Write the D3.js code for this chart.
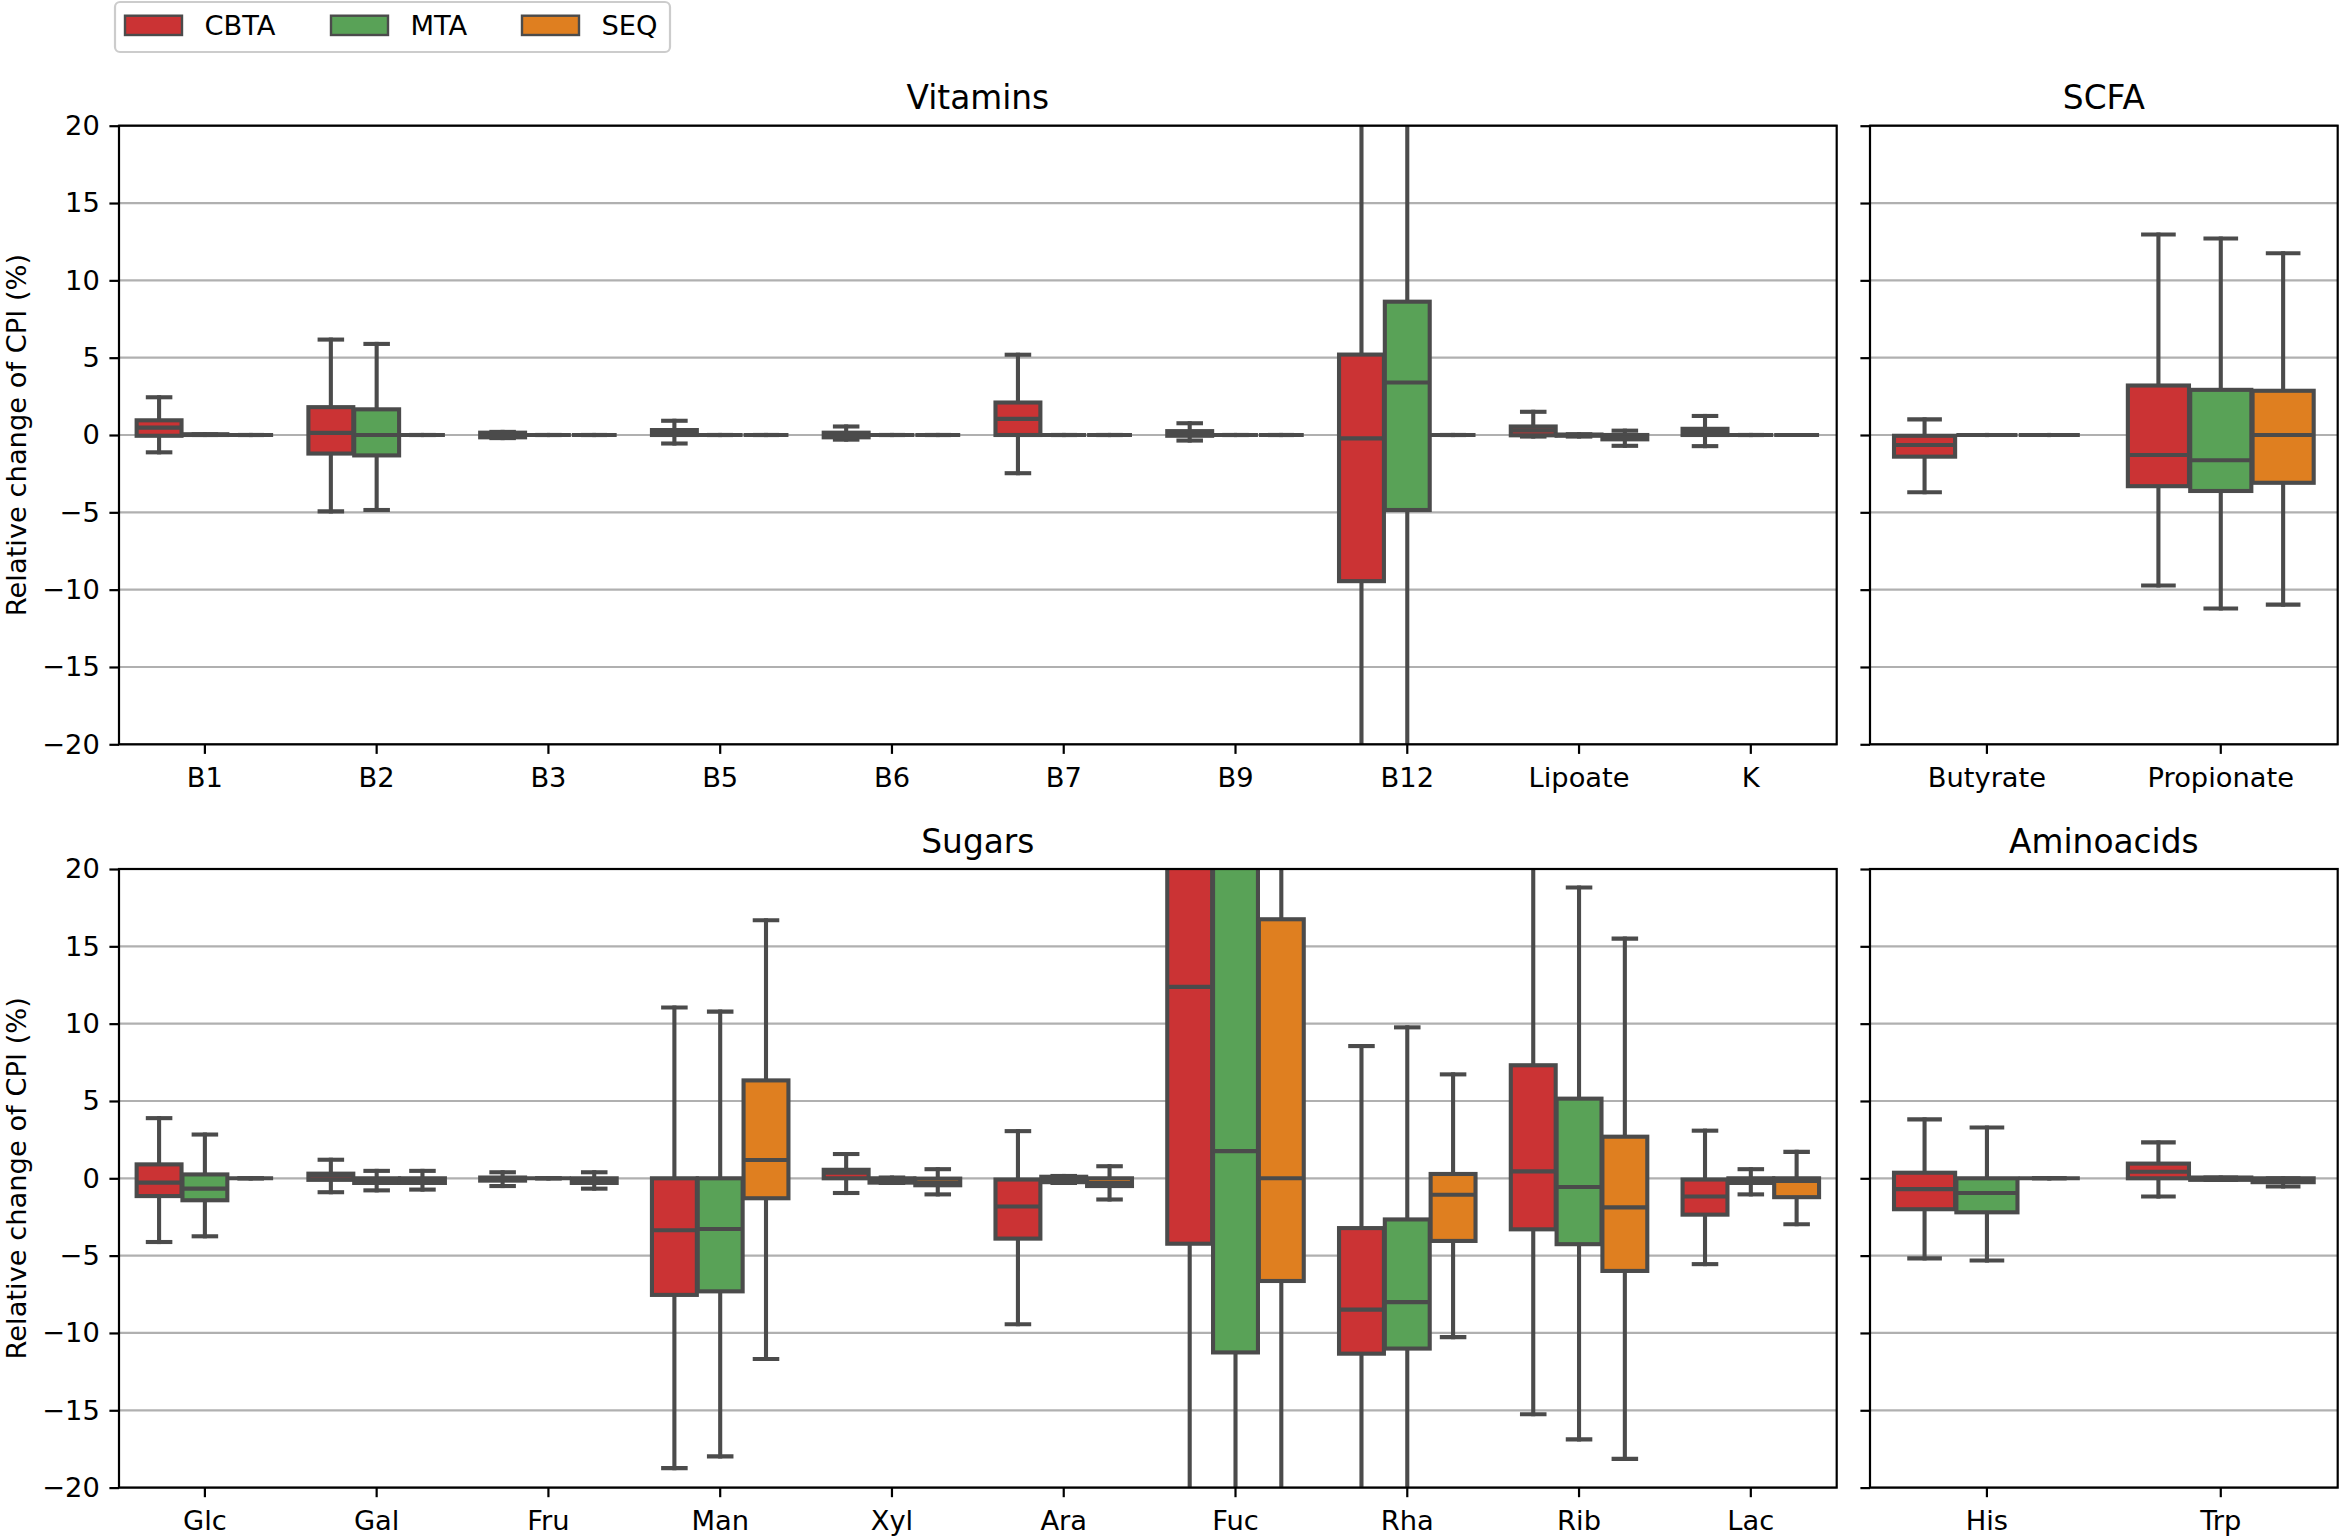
<!DOCTYPE html>
<html>
<head>
<meta charset="utf-8">
<script src="https://cdn.jsdelivr.net/npm/d3@7/dist/d3.min.js"></script>
<style>
  html, body { margin: 0; padding: 0; background: #ffffff; }
  svg { display: block; }
  text { font-family: "DejaVu Sans", sans-serif; fill: #000; }
</style>
</head>
<body>
<svg id="chart" width="2342" height="1538"></svg>
<script>
// ---------------- DATA (each box: [lowWhisker, Q1, median, Q3, highWhisker]) ----------------
const seriesNames = ["CBTA", "MTA", "SEQ"];
const seriesColors = ["#cb3334", "#59a257", "#df7f20"];
const yTicks = [-20, -15, -10, -5, 0, 5, 10, 15, 20];

const vitaminCategories = ["B1", "B2", "B3", "B5", "B6", "B7", "B9", "B12", "Lipoate", "K"];
const vitaminsCBTA = [
  [-1.12, -0.05, 0.48, 0.95, 2.44],
  [-4.94, -1.20, 0.14, 1.80, 6.17],
  [-0.20, -0.15, 0.00, 0.15, 0.20],
  [-0.55, 0.00, 0.15, 0.32, 0.92],
  [-0.30, -0.15, 0.05, 0.15, 0.55],
  [-2.47, 0.00, 1.04, 2.10, 5.19],
  [-0.36, -0.05, 0.12, 0.25, 0.76],
  [-30.0, -9.45, -0.22, 5.20, 28.0],
  [-0.10, -0.02, 0.30, 0.55, 1.50],
  [-0.72, 0.00, 0.25, 0.40, 1.23]
];
const vitaminsMTA = [
  [0, 0, 0, 0.05, 0.05],
  [-4.85, -1.32, 0.00, 1.66, 5.89],
  [0, 0, 0, 0, 0],
  [0, 0, 0, 0, 0],
  [0, 0, 0, 0, 0],
  [0, 0, 0, 0, 0],
  [0, 0, 0, 0, 0],
  [-26.0, -4.85, 3.39, 8.62, 25.0],
  [-0.10, -0.05, 0.00, 0.03, 0.05],
  [0, 0, 0, 0, 0]
];
const vitaminsSEQ = [
  [0, 0, 0, 0, 0],
  [0, 0, 0, 0, 0],
  [0, 0, 0, 0, 0],
  [0, 0, 0, 0, 0],
  [0, 0, 0, 0, 0],
  [0, 0, 0, 0, 0],
  [0, 0, 0, 0, 0],
  [0, 0, 0, 0, 0],
  [-0.70, -0.28, -0.17, 0.00, 0.28],
  [0, 0, 0, 0, 0]
];

const scfaCategories = ["Butyrate", "Propionate"];
const scfaCBTA = [
  [-3.70, -1.40, -0.65, -0.05, 1.01],
  [-9.73, -3.31, -1.29, 3.20, 12.96]
];
const scfaMTA = [
  [0, 0, 0, 0, 0],
  [-11.22, -3.62, -1.63, 2.92, 12.71]
];
const scfaSEQ = [
  [0, 0, 0, 0, 0],
  [-10.97, -3.09, 0.00, 2.86, 11.75]
];

const sugarCategories = ["Glc", "Gal", "Fru", "Man", "Xyl", "Ara", "Fuc", "Rha", "Rib", "Lac"];
const sugarsCBTA = [
  [-4.12, -1.15, -0.28, 0.90, 3.89],
  [-0.90, -0.10, 0.17, 0.30, 1.20],
  [-0.50, -0.15, -0.03, 0.05, 0.39],
  [-18.74, -7.54, -3.36, 0.00, 11.04],
  [-0.95, 0.00, 0.36, 0.55, 1.57],
  [-9.44, -3.90, -1.82, -0.08, 3.05],
  [-40.0, -4.23, 12.38, 26.0, 45.0],
  [-25.0, -11.34, -8.49, -3.22, 8.55],
  [-15.26, -3.30, 0.45, 7.31, 24.0],
  [-5.55, -2.35, -1.18, -0.08, 3.08]
];
const sugarsMTA = [
  [-3.75, -1.42, -0.67, 0.25, 2.83],
  [-0.78, -0.30, -0.10, 0.00, 0.48],
  [0, 0, 0, 0, 0],
  [-17.98, -7.31, -3.28, 0.00, 10.78],
  [-0.30, -0.28, -0.10, 0.00, 0.05],
  [-0.30, -0.25, -0.05, 0.10, 0.15],
  [-35.0, -11.26, 1.76, 24.0, 40.0],
  [-24.0, -11.01, -8.01, -2.66, 9.76],
  [-16.88, -4.26, -0.56, 5.15, 18.80],
  [-1.04, -0.30, -0.10, 0.00, 0.59]
];
const sugarsSEQ = [
  [0, 0, 0, 0, 0],
  [-0.73, -0.30, -0.10, 0.00, 0.48],
  [-0.67, -0.30, -0.10, 0.00, 0.39],
  [-11.68, -1.29, 1.18, 6.33, 16.69],
  [-1.04, -0.45, -0.31, -0.02, 0.59],
  [-1.37, -0.50, -0.31, 0.00, 0.78],
  [-30.0, -6.64, 0.00, 16.75, 30.0],
  [-10.27, -4.05, -1.06, 0.28, 6.72],
  [-18.14, -5.99, -1.88, 2.69, 15.50],
  [-2.97, -1.22, -0.17, 0.00, 1.71]
];

const aminoCategories = ["His", "Trp"];
const aminoCBTA = [
  [-5.18, -2.00, -0.70, 0.36, 3.81],
  [-1.18, 0.00, 0.42, 0.95, 2.32]
];
const aminoMTA = [
  [-5.32, -2.20, -0.95, 0.00, 3.28],
  [-0.10, -0.10, 0.00, 0.05, 0.05]
];
const aminoSEQ = [
  [0, 0, 0, 0, 0],
  [-0.53, -0.25, -0.10, 0.00, 0.00]
];

// ---------------- LAYOUT ----------------
const svg = d3.select("#chart");
const lineGray = "#4b4b4b";
const boxLW = 4.1;
const fontSize = 27.3;
const titleSize = 32.8;

const leftX = [119, 1836.7];
const rightX = [1870, 2337.7];
const topY = [125.7, 744.3];
const botY = [869, 1487.6];

const panels = [
  { title: "Vitamins", cats: vitaminCategories, data: [vitaminsCBTA, vitaminsMTA, vitaminsSEQ], xr: leftX, yr: topY, labels: true },
  { title: "SCFA", cats: scfaCategories, data: [scfaCBTA, scfaMTA, scfaSEQ], xr: rightX, yr: topY, labels: false },
  { title: "Sugars", cats: sugarCategories, data: [sugarsCBTA, sugarsMTA, sugarsSEQ], xr: leftX, yr: botY, labels: true },
  { title: "Aminoacids", cats: aminoCategories, data: [aminoCBTA, aminoMTA, aminoSEQ], xr: rightX, yr: botY, labels: false }
];

const defs = svg.append("defs");
const fmt = d => d < 0 ? "\u2212" + Math.abs(d) : String(d);

panels.forEach((p, pi) => {
  const x = d3.scaleBand().domain(p.cats).range(p.xr).padding(0);
  const y = d3.scaleLinear().domain([-20, 20]).range([p.yr[1], p.yr[0]]);
  const g = svg.append("g");

  const clipId = "clip" + pi;
  defs.append("clipPath").attr("id", clipId)
    .append("rect")
    .attr("x", p.xr[0]).attr("y", p.yr[0])
    .attr("width", p.xr[1] - p.xr[0]).attr("height", p.yr[1] - p.yr[0]);

  // grid
  g.append("g").selectAll("line").data(yTicks).join("line")
    .attr("x1", p.xr[0]).attr("x2", p.xr[1])
    .attr("y1", d => y(d)).attr("y2", d => y(d))
    .attr("stroke", "#b0b0b0").attr("stroke-width", 2.2);

  // boxes
  const bw = x.bandwidth();
  const hueStep = 0.8 / 3 * bw;
  const boxW = hueStep * 0.98;
  const boxes = g.append("g").attr("clip-path", `url(#${clipId})`);
  p.cats.forEach((c, ci) => {
    p.data.forEach((series, si) => {
      const v = series[ci];
      const cx = x(c) + bw / 2 + (si - 1) * hueStep;
      const [lo, q1, med, q3, hi] = v;
      const bg = boxes.append("g");
      // whiskers
      bg.append("line").attr("x1", cx).attr("x2", cx).attr("y1", y(q3)).attr("y2", y(hi))
        .attr("stroke", lineGray).attr("stroke-width", boxLW).attr("stroke-linecap", "square");
      bg.append("line").attr("x1", cx).attr("x2", cx).attr("y1", y(q1)).attr("y2", y(lo))
        .attr("stroke", lineGray).attr("stroke-width", boxLW).attr("stroke-linecap", "square");
      // caps
      [lo, hi].forEach(w => {
        bg.append("line").attr("x1", cx - boxW / 4).attr("x2", cx + boxW / 4)
          .attr("y1", y(w)).attr("y2", y(w))
          .attr("stroke", lineGray).attr("stroke-width", boxLW).attr("stroke-linecap", "square");
      });
      // box
      bg.append("rect")
        .attr("x", cx - boxW / 2).attr("width", boxW)
        .attr("y", y(q3)).attr("height", Math.max(0, y(q1) - y(q3)))
        .attr("fill", seriesColors[si])
        .attr("stroke", lineGray).attr("stroke-width", boxLW).attr("stroke-linejoin", "miter");
      // median
      bg.append("line").attr("x1", cx - boxW / 2).attr("x2", cx + boxW / 2)
        .attr("y1", y(med)).attr("y2", y(med))
        .attr("stroke", lineGray).attr("stroke-width", boxLW);
    });
  });

  // y axis
  const ya = g.append("g").attr("transform", `translate(${p.xr[0]},0)`)
    .call(d3.axisLeft(y).tickValues(yTicks).tickSize(9.6).tickPadding(9.6)
      .tickFormat(p.labels ? fmt : () => ""));
  ya.select(".domain").remove();
  ya.selectAll(".tick line").attr("stroke", "#000").attr("stroke-width", 2.2);
  ya.selectAll(".tick text").attr("font-size", fontSize).attr("font-family", "DejaVu Sans").attr("fill", "#000");

  // x axis
  const xa = g.append("g").attr("transform", `translate(0,${p.yr[1]})`)
    .call(d3.axisBottom(x).tickSize(9.6).tickPadding(13.5));
  xa.select(".domain").remove();
  xa.selectAll(".tick line").attr("stroke", "#000").attr("stroke-width", 2.2);
  xa.selectAll(".tick text").attr("font-size", fontSize).attr("font-family", "DejaVu Sans").attr("fill", "#000");

  // spines
  g.append("rect")
    .attr("x", p.xr[0]).attr("y", p.yr[0])
    .attr("width", p.xr[1] - p.xr[0]).attr("height", p.yr[1] - p.yr[0])
    .attr("fill", "none").attr("stroke", "#000").attr("stroke-width", 2.2);

  // title
  g.append("text")
    .attr("x", (p.xr[0] + p.xr[1]) / 2).attr("y", p.yr[0] - 16.5)
    .attr("text-anchor", "middle").attr("font-size", titleSize)
    .text(p.title);

  // y label
  if (p.labels) {
    g.append("text")
      .attr("transform", `translate(25.5,${(p.yr[0] + p.yr[1]) / 2}) rotate(-90)`)
      .attr("text-anchor", "middle").attr("font-size", fontSize)
      .text("Relative change of CPI (%)");
  }
});

// ---------------- LEGEND ----------------
const legend = svg.append("g");
legend.append("rect")
  .attr("x", 115).attr("y", 2).attr("width", 555).attr("height", 50)
  .attr("rx", 5).attr("ry", 5)
  .attr("fill", "#fff").attr("fill-opacity", 0.8)
  .attr("stroke", "#cccccc").attr("stroke-width", 2.2);
const legX = [125, 331, 522];
seriesNames.forEach((s, i) => {
  legend.append("rect")
    .attr("x", legX[i]).attr("y", 15.7).attr("width", 57).attr("height", 19.3)
    .attr("fill", seriesColors[i]).attr("stroke", lineGray).attr("stroke-width", 2.4);
  legend.append("text")
    .attr("x", legX[i] + 79.5).attr("y", 35)
    .attr("font-size", fontSize)
    .text(s);
});
</script>
</body>
</html>
